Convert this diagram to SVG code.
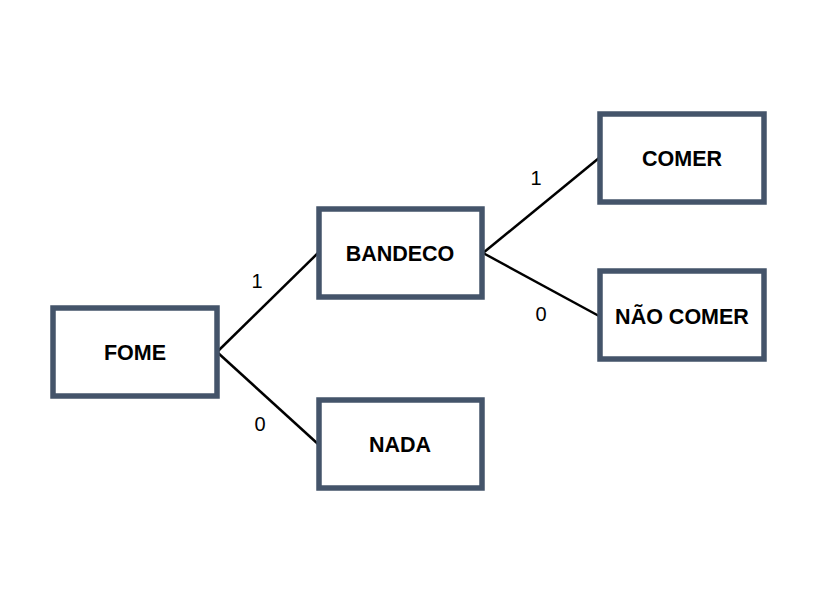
<svg xmlns="http://www.w3.org/2000/svg" width="832" height="608" viewBox="0 0 832 608">
<style>
.box{fill:#fff;stroke:#44546A;stroke-width:5.5}
.lbl{font-family:"Liberation Sans",Arial,sans-serif;font-weight:bold;font-size:21.5px;fill:#000;text-anchor:middle;dominant-baseline:central}
.num{font-family:"Liberation Sans",Arial,sans-serif;font-size:20px;fill:#000;text-anchor:middle;dominant-baseline:central}
.edge{stroke:#000;stroke-width:2.5;fill:none}
</style>
<rect width="832" height="608" fill="#fff"/>
<g id="connectors">
<line class="edge" x1="217" y1="352" x2="318" y2="253"/>
<line class="edge" x1="217" y1="352" x2="318" y2="444"/>
<line class="edge" x1="483" y1="253" x2="599" y2="158"/>
<line class="edge" x1="483" y1="253" x2="599" y2="316"/>
<text class="num" x="257" y="281">1</text>
<text class="num" x="260" y="424">0</text>
<text class="num" x="536" y="178">1</text>
<text class="num" x="541" y="314">0</text>
</g>
<g id="fome"><rect class="box" x="53" y="308" width="164" height="88"/><text class="lbl" x="135" y="353">FOME</text></g>
<g id="bandeco"><rect class="box" x="319" y="209" width="163" height="88"/><text class="lbl" x="400" y="254">BANDECO</text></g>
<g id="nada"><rect class="box" x="319" y="400" width="163" height="88"/><text class="lbl" x="400" y="445">NADA</text></g>
<g id="comer"><rect class="box" x="600" y="114" width="164" height="88"/><text class="lbl" x="682" y="159">COMER</text></g>
<g id="nao-comer"><rect class="box" x="600" y="271" width="164" height="88"/><text class="lbl" x="682" y="317">NÃO COMER</text></g>
</svg>
